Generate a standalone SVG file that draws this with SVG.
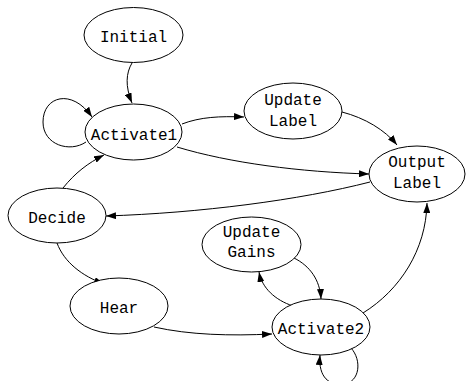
<svg xmlns="http://www.w3.org/2000/svg" width="466" height="381" viewBox="0 0 466 381">
<style>
.n ellipse{fill:#fff;stroke:#000;stroke-width:1}
.n text{font-family:"Liberation Mono","Courier New",monospace;font-size:16px;text-anchor:middle;fill:#000}
#edges path{fill:none;stroke:#000;stroke-width:1;marker-end:url(#ah)}
</style>
<defs>
<marker id="ah" viewBox="0 0 10 7" refX="10" refY="3.5" markerWidth="10" markerHeight="7" markerUnits="userSpaceOnUse" orient="auto">
<path d="M0,0 L10,3.5 L0,7 Z" fill="#000"/>
</marker>
</defs>
<rect width="466" height="381" fill="#fff"/>
<g id="edges">
<path d="M132,63 C126,73 125,86 132,103"/>
<path d="M86,142 C70,153 43,145 43,122 C43,96 72,88 92,117"/>
<path d="M182,124 C200,117 220,116 244,117"/>
<path d="M177,147 C230,163 300,172 369,174"/>
<path d="M342,112 C365,118 385,130 397,145"/>
<path d="M370,182 C300,200 200,213 106,216"/>
<path d="M63,188 C75,173 88,163 104,155"/>
<path d="M57,243 C64,262 82,276 104,284"/>
<path d="M154,327 C190,335 230,336 272,334"/>
<path d="M294,258 C310,266 320,280 321,299"/>
<path d="M293,306 C275,300 262,288 259,272"/>
<path d="M363,313 C400,290 426,250 427,203"/>
<path d="M351,348 C362,360 360,382 344,384 C330,386 318,378 320,355"/>
</g>
<g id="initial" class="n"><ellipse cx="133.5" cy="35" rx="49.5" ry="27.5"/><text x="133.5" y="41.5">Initial</text></g>
<g id="activate1" class="n"><ellipse cx="133.5" cy="132" rx="48.5" ry="28"/><text x="134" y="140">Activate1</text></g>
<g id="updatelabel" class="n"><ellipse cx="293" cy="111" rx="49" ry="28"/><text x="293" y="105">Update</text><text x="293" y="126">Label</text></g>
<g id="outputlabel" class="n"><ellipse cx="417" cy="174" rx="48" ry="28"/><text x="417" y="167">Output</text><text x="417" y="188">Label</text></g>
<g id="decide" class="n"><ellipse cx="57" cy="215.5" rx="49" ry="27.5"/><text x="57" y="223">Decide</text></g>
<g id="hear" class="n"><ellipse cx="119" cy="306" rx="49" ry="28"/><text x="119" y="313">Hear</text></g>
<g id="updategains" class="n"><ellipse cx="251.5" cy="244.5" rx="49.5" ry="27.5"/><text x="251.5" y="237">Update</text><text x="251.5" y="257">Gains</text></g>
<g id="activate2" class="n"><ellipse cx="321" cy="327" rx="49" ry="28"/><text x="321" y="334">Activate2</text></g>
</svg>
